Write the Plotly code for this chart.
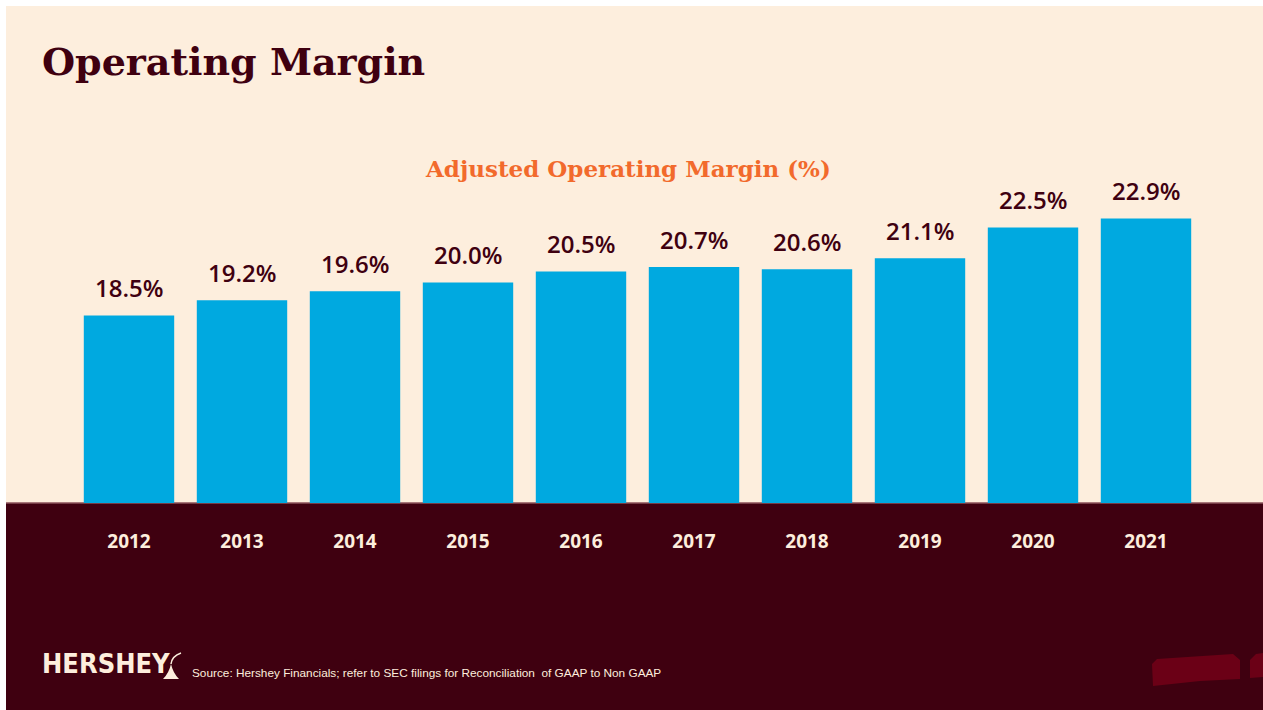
import plotly.graph_objects as go

years = ["2012", "2013", "2014", "2015", "2016", "2017", "2018", "2019", "2020", "2021"]
margin_pct = [18.5, 19.2, 19.6, 20.0, 20.5, 20.7, 20.6, 21.1, 22.5, 22.9]
value_labels = ["18.5%", "19.2%", "19.6%", "20.0%", "20.5%", "20.7%", "20.6%", "21.1%", "22.5%", "22.9%"]

W, H = 1263, 710
BEIGE = "#fdeedd"
MAROON = "#3f0010"
BLUE = "#00a9e0"
ORANGE = "#f26a2c"
RED = "#6b0016"

def px_x(x):
    return x / W

def px_y(y):
    return (H - y) / H

fig = go.Figure()
fig.add_trace(go.Bar(
    x=years, y=margin_pct,
    marker=dict(color=BLUE, line=dict(width=0)),
    width=0.8,
    hoverinfo="x+y",
))

annotations = []
for i, (v, lab) in enumerate(zip(margin_pct, value_labels)):
    # on a category axis, annotation x is the category's serial number
    annotations.append(dict(
        x=i, y=v, xref="x", yref="y", text=lab, showarrow=False,
        yanchor="middle", yshift=28,
        font=dict(family="Open Sans, Lato, sans-serif", size=24, color=MAROON, weight=600),
    ))

annotations += [
    dict(x=px_x(40), y=px_y(62), xref="paper", yref="paper", xanchor="left", yanchor="middle",
         text="<b>Operating Margin</b>", showarrow=False,
         font=dict(family="DejaVu Serif, Liberation Serif, serif", size=38, color=MAROON)),
    dict(x=px_x(628), y=px_y(168), xref="paper", yref="paper", xanchor="center", yanchor="middle",
         text="<b>Adjusted Operating Margin (%)</b>", showarrow=False,
         font=dict(family="DejaVu Serif, Liberation Serif, serif", size=23, color=ORANGE)),
    dict(x=px_x(40), y=px_y(663), xref="paper", yref="paper", xanchor="left", yanchor="middle",
         text="<b>HERSHEY</b>", showarrow=False,
         font=dict(family="DejaVu Sans Condensed, DejaVu Sans, sans-serif", size=27, color=BEIGE)),
    dict(x=px_x(190), y=px_y(673), xref="paper", yref="paper", xanchor="left", yanchor="middle",
         text="Source: Hershey Financials; refer to SEC filings for Reconciliation  of GAAP to Non GAAP", showarrow=False,
         font=dict(family="Liberation Sans, Open Sans, sans-serif", size=11.8, color=BEIGE)),
]

shapes = [
    dict(type="rect", xref="paper", yref="paper", x0=px_x(6), x1=1, y0=px_y(503), y1=px_y(6),
         fillcolor=BEIGE, line=dict(width=0), layer="below"),
    dict(type="rect", xref="paper", yref="paper", x0=px_x(6), x1=1, y0=0, y1=px_y(503),
         fillcolor=MAROON, line=dict(width=0), layer="below"),
    dict(type="line", xref="paper", yref="paper", x0=px_x(6), x1=1, y0=px_y(503), y1=px_y(503),
         line=dict(width=1.5, color="#8a5058"), layer="below"),
    # decorative red shapes bottom right
    dict(type="path", xref="paper", yref="paper",
         path=f"M {px_x(1152)},{px_y(664)} L {px_x(1157)},{px_y(659)} L {px_x(1233)},{px_y(654)} "
              f"L {px_x(1240)},{px_y(660)} L {px_x(1240)},{px_y(679)} L {px_x(1200)},{px_y(681)} "
              f"L {px_x(1153)},{px_y(686)} Z",
         fillcolor=RED, line=dict(width=0), layer="below"),
    dict(type="path", xref="paper", yref="paper",
         path=f"M {px_x(1250)},{px_y(660)} L {px_x(1256)},{px_y(654)} L {px_x(1263)},{px_y(653)} "
              f"L {px_x(1263)},{px_y(677)} L {px_x(1250)},{px_y(678)} Z",
         fillcolor=RED, line=dict(width=0), layer="below"),
    # small kiss icon next to logo
    dict(type="path", xref="paper", yref="paper",
         path=f"M {px_x(163)},{px_y(679)} Q {px_x(169)},{px_y(673)} {px_x(171)},{px_y(664)} "
              f"Q {px_x(173)},{px_y(673)} {px_x(179)},{px_y(679)} Z",
         fillcolor=BEIGE, line=dict(width=0)),
    dict(type="path", xref="paper", yref="paper",
         path=f"M {px_x(171)},{px_y(664)} Q {px_x(172)},{px_y(656)} {px_x(181)},{px_y(653)}",
         line=dict(width=1.5, color=BEIGE)),
]

y0 = 10.0
ppu = 22.05
y_top_px = 170
fig.update_layout(
    width=W, height=H,
    autosize=False,
    margin=dict(l=0, r=0, t=0, b=0, pad=0),
    paper_bgcolor="white",
    plot_bgcolor="rgba(0,0,0,0)",
    showlegend=False,
    bargap=0.2,
    xaxis=dict(type="category", domain=[px_x(72.5), px_x(1202.5)], range=[-0.5, len(years) - 0.5],
               showgrid=False, zeroline=False,
               showline=False, ticks="outside", ticklen=21, tickcolor="rgba(0,0,0,0)",
               tickfont=dict(family="Open Sans, Lato, sans-serif", size=19, color=BEIGE, weight="bold")),
    yaxis=dict(domain=[px_y(503), px_y(y_top_px)], range=[y0, y0 + (503 - y_top_px) / ppu],
               visible=False, fixedrange=True),
    annotations=annotations,
    shapes=shapes,
)
fig.update_traces(cliponaxis=False)

fig.write_html(
    "out.html",
    config={"responsive": False, "displayModeBar": False},
    post_script="document.body.style.margin='0';document.body.style.overflow='hidden';",
)
